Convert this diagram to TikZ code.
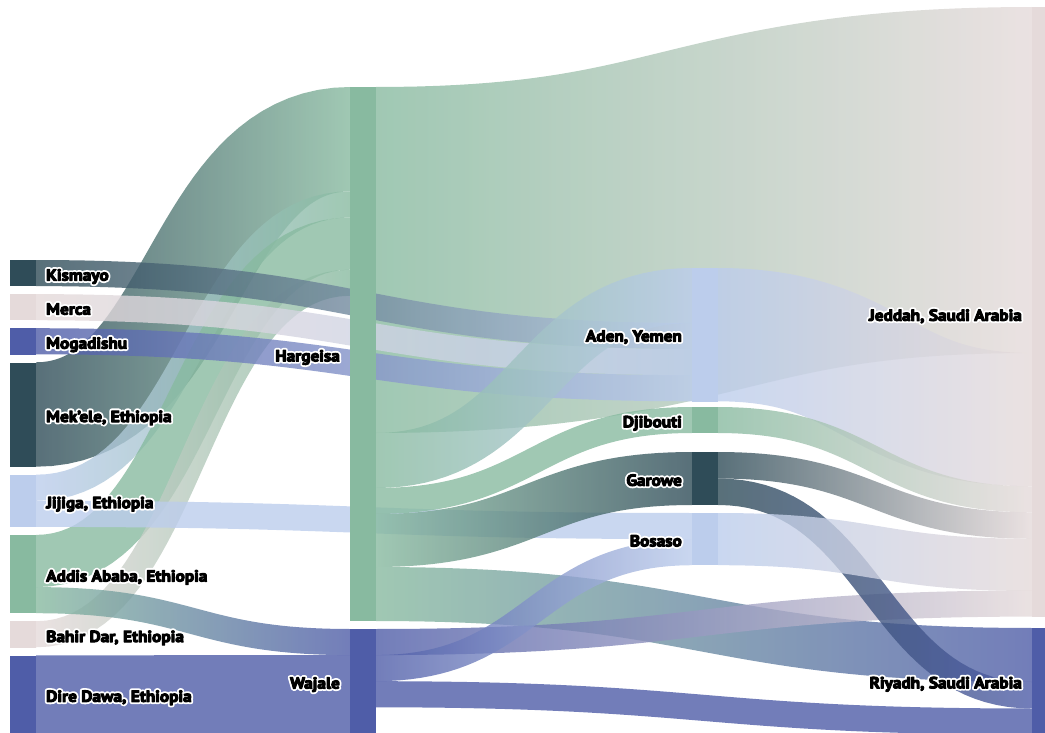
\documentclass[tikz,border=0pt]{standalone}
\usepackage{fontspec}
\setmainfont{PT Sans}[FakeStretch=1.08]
\definecolor{cdark}{HTML}{2F4C58}
\definecolor{cpink}{HTML}{E5DADA}
\definecolor{cblue}{HTML}{4F5DA8}
\definecolor{clb}{HTML}{BCCDEC}
\definecolor{cgreen}{HTML}{88BAA0}
\newcommand\halo[1]{\rlap{\special{pdf:literal direct q 1 1 1 RG 4.6 w 1 j 2 Tr}#1\special{pdf:literal direct 0 Tr Q}}\rlap{\special{pdf:literal direct q 0 0 0 RG 1 w 1 j 2 Tr}#1\special{pdf:literal direct 0 Tr Q}}\phantom{#1}}
\newcommand\lnk[7]{%
 \pgfmathsetmacro\Lxa{#1}%
 \pgfmathsetmacro\Lxb{#3}%
 \pgfmathsetmacro\Lh{(#5)/2}%
 \pgfmathsetmacro\Lya{#2+\Lh}%
 \pgfmathsetmacro\Lyb{#4+\Lh}%
 \pgfmathsetmacro\Ldx{\Lxb-\Lxa}%
 \pgfmathsetmacro\Ldy{\Lyb-\Lya}%
 \shade[lk,left color=#6,right color=#7]
  plot[domain=0:1,samples=41,variable=\t]
   ({\Lxa+\Ldx*fbx(\t)-\Lh*ftb(\t)/fnn(\t)},{\Lya+\Ldy*fby(\t)+\Lh*fta(\t)/fnn(\t)})
  -- plot[domain=0:1,samples=41,variable=\t]
   ({\Lxa+\Ldx*fbx(1-\t)+\Lh*ftb(1-\t)/fnn(1-\t)},{\Lya+\Ldy*fby(1-\t)-\Lh*fta(1-\t)/fnn(1-\t)})
  -- cycle;}
\begin{document}
\begin{tikzpicture}[x=1pt,y=-1pt,
  declare function={
    fbx(\u)=1.5*\u-1.5*\u*\u+\u*\u*\u;
    fby(\u)=3*\u*\u-2*\u*\u*\u;
    fta(\u)=\Ldx*(1.5-3*\u+3*\u*\u)/100;
    ftb(\u)=\Ldy*(6*\u-6*\u*\u)/100;
    fnn(\u)=sqrt(fta(\u)*fta(\u)+ftb(\u)*ftb(\u));
  },
  lk/.style={fill opacity=0.8,draw=none},
  bar/.style={rectangle,draw=none,inner sep=0pt,minimum width=26,anchor=north west},
  lab/.style={font=\bfseries\fontsize{16}{18}\selectfont,inner sep=0pt,text=black}]
\useasboundingbox (0,0) rectangle (1045,733);
\clip (0,0) rectangle (1045,733);
% links
\lnk{376}{87}{1032}{7}{346}{cgreen}{cpink}
\lnk{36}{362.3}{350}{87}{104.4}{cdark}{cgreen}
\lnk{36}{474.7}{350}{191.4}{26.1}{clb}{cgreen}
\lnk{36}{534.9}{350}{217.5}{52.2}{cgreen}{cgreen}
\lnk{36}{621.2}{350}{269.7}{26.1}{cpink}{cgreen}
\lnk{36}{260}{692}{323}{26.1}{cdark}{clb}
\lnk{36}{294.1}{692}{349.1}{26.1}{cpink}{clb}
\lnk{36}{328.2}{692}{375.2}{26.1}{cblue}{clb}
\lnk{36}{500.8}{692}{513}{26.1}{clb}{clb}
\lnk{36}{587.1}{350}{629}{26.1}{cgreen}{cblue}
\lnk{36}{655.3}{350}{655.1}{78.3}{cblue}{cblue}
\lnk{376}{433}{692}{268}{55}{cgreen}{clb}
\lnk{376}{488}{692}{407}{26}{cgreen}{cgreen}
\lnk{376}{514}{692}{452}{53}{cgreen}{cdark}
\lnk{376}{567}{1032}{628}{54}{cgreen}{cblue}
\lnk{376}{629}{1032}{590.5}{26.1}{cblue}{cpink}
\lnk{376}{655.1}{692}{539.1}{26.1}{cblue}{clb}
\lnk{376}{681.2}{1032}{708.5}{26.1}{cblue}{cblue}
\lnk{718}{268}{1032}{353}{133.3}{clb}{cpink}
\lnk{718}{407}{1032}{486.3}{26}{cgreen}{cpink}
\lnk{718}{452}{1032}{512.3}{26.5}{cdark}{cpink}
\lnk{718}{478.5}{1032}{682}{26.5}{cdark}{cblue}
\lnk{718}{513}{1032}{538.8}{52.2}{clb}{cpink}
% node bars
\node[bar,fill=cdark,minimum height=26.1] (kis) at (10,260) {};
\node[bar,fill=cpink,minimum height=26.1] (mer) at (10,294.1) {};
\node[bar,fill=cblue,minimum height=26.1] (mog) at (10,328.2) {};
\node[bar,fill=cdark,minimum height=104.4] (mek) at (10,362.3) {};
\node[bar,fill=clb,minimum height=52.2] (jij) at (10,474.7) {};
\node[bar,fill=cgreen,minimum height=78.3] (add) at (10,534.9) {};
\node[bar,fill=cpink,minimum height=26.1] (bah) at (10,621.2) {};
\node[bar,fill=cblue,minimum height=78.3] (dir) at (10,655.3) {};
\node[bar,fill=cgreen,minimum height=534] (har) at (350,87) {};
\node[bar,fill=cblue,minimum height=104.4] (waj) at (350,629) {};
\node[bar,fill=clb,minimum height=133.3] (ade) at (692,268) {};
\node[bar,fill=cgreen,minimum height=26] (dji) at (692,407) {};
\node[bar,fill=cdark,minimum height=53] (gar) at (692,452) {};
\node[bar,fill=clb,minimum height=52.2] (bos) at (692,513) {};
\node[bar,fill=cpink,minimum height=609.8] (jed) at (1032,7) {};
\node[bar,fill=cblue,minimum height=106] (riy) at (1032,628) {};
% labels
\node[lab,anchor=base west] (lkis) at (46,280.6) {\halo{Kismayo}};
\node[lab,anchor=base west] (lmer) at (46,314.6) {\halo{Merca}};
\node[lab,anchor=base west] (lmog) at (46,348.7) {\halo{Mogadishu}};
\node[lab,anchor=base west] (lmek) at (46,422) {\halo{Mek'ele, Ethiopia}};
\node[lab,anchor=base west] (ljij) at (46,508.2) {\halo{Jijiga, Ethiopia}};
\node[lab,anchor=base west] (ladd) at (46,581.5) {\halo{Addis Ababa, Ethiopia}};
\node[lab,anchor=base west] (lbah) at (46,642) {\halo{Bahir Dar, Ethiopia}};
\node[lab,anchor=base west] (ldir) at (46,701.8) {\halo{Dire Dawa, Ethiopia}};
\node[lab,anchor=base east] (lhar) at (340,361.4) {\halo{Hargeisa}};
\node[lab,anchor=base east] (lwaj) at (340,688.6) {\halo{Wajale}};
\node[lab,anchor=base east] (lade) at (682,341.5) {\halo{Aden, Yemen}};
\node[lab,anchor=base east] (ldji) at (682,427.3) {\halo{Djibouti}};
\node[lab,anchor=base east] (lgar) at (682,485.8) {\halo{Garowe}};
\node[lab,anchor=base east] (lbos) at (682,546.4) {\halo{Bosaso}};
\node[lab,anchor=base east] (ljed) at (1022,320.8) {\halo{Jeddah, Saudi Arabia}};
\node[lab,anchor=base east] (lriy) at (1022,688.3) {\halo{Riyadh, Saudi Arabia}};
\end{tikzpicture}
\end{document}
